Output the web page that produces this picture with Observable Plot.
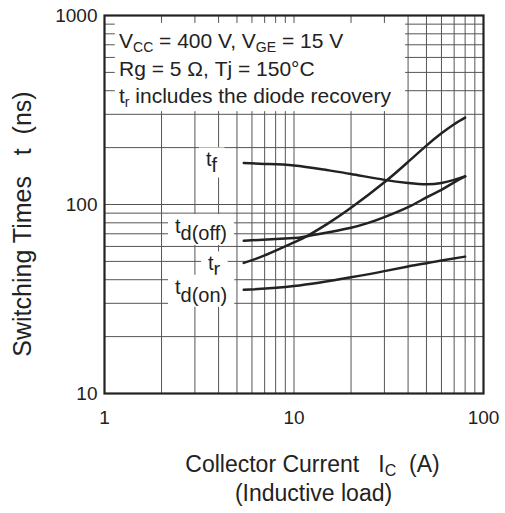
<!DOCTYPE html>
<html>
<head>
<meta charset="utf-8">
<script src="https://cdn.jsdelivr.net/npm/d3@7"></script>
<script src="https://cdn.jsdelivr.net/npm/@observablehq/plot@0.6"></script>
<style>
  html, body { margin: 0; padding: 0; background: #fff; }
  svg { display: block; }
</style>
</head>
<body>
<div id="chart"></div>
<script>
// ---------- data ----------
const xTicks = [1, 10, 100];
const yTicks = [10, 100, 1000];
const xGrid = [2, 3, 4, 5, 6, 7, 8, 9, 10, 20, 30, 40, 50, 60, 70, 80, 90];
const yGrid = [20, 30, 40, 50, 60, 70, 80, 90, 100, 200, 300, 400, 500, 600, 700, 800, 900];

const tfI = [5.43, 7, 10, 14.4, 20, 30, 40, 50, 60, 70, 80];
const tfT = [166, 164, 161, 153, 145, 135, 130, 128, 130, 135, 141];

const trI = [5.43, 7, 10, 11.7, 15, 20, 30, 40, 50, 60, 70, 80];
const trT = [49.1, 53.8, 63, 68, 79, 96, 131, 168, 205, 238, 266, 288];

const tdoffI = [5.43, 10, 11.7, 20, 30, 40, 50, 60, 70, 80];
const tdoffT = [64.3, 66.4, 68, 75.3, 85.7, 96.8, 109, 119.6, 131, 141];

const tdonI = [5.43, 10, 20, 30, 40, 50, 60, 80];
const tdonT = [35.4, 37, 41.2, 44.4, 47, 48.9, 50.5, 53];

const seriesNames = ["tf", "tr", "td(off)", "td(on)"];

// annotation anchors (data units)
const noteBox = [{x1: 1.14, x2: 38.8, y1: 310, y2: 908}];
const noteLines = [
  {x: 1.2, y: 668, text: "V_{CC} = 400 V, V_{GE} = 15 V"},
  {x: 1.2, y: 475, text: "Rg = 5 Ω, Tj = 150°C"},
  {x: 1.2, y: 342, text: "t_{r} includes the diode recovery"}
];
const curveLabels = [
  {x: 3.45, y: 158, text: "t_{f}", shift: 6},
  {x: 2.37, y: 70.3, text: "t_{d(off)}", shift: 7},
  {x: 3.54, y: 44.5, text: "t_{r}", shift: 6},
  {x: 2.37, y: 33.5, text: "t_{d(on)}", shift: 8}
];
const xTitle = "Collector Current\u00a0\u00a0\u00a0I_{C}\u00a0\u00a0(A)";
const xTitle2 = "(Inductive load)";
const yTitle = "Switching Times\u00a0\u00a0\u00a0t\u00a0\u00a0(ns)";

// ---------- build table ----------
const pairs = [[tfI, tfT], [trI, trT], [tdoffI, tdoffT], [tdonI, tdonT]];
const rows = pairs.flatMap(([I, T], k) => I.map((v, i) => ({series: seriesNames[k], I: v, t: T[i]})));

const FONT = "'Liberation Sans', Arial, Helvetica, sans-serif";
const INK = "#222";

const chart = Plot.plot({
  width: 505,
  height: 513,
  marginLeft: 104,
  marginRight: 22,
  marginTop: 15,
  marginBottom: 120,
  style: {fontFamily: FONT, color: INK, background: "#fff"},
  x: {type: "log", domain: [1, 100]},
  y: {type: "log", domain: [10, 1000]},
  marks: [
    Plot.ruleX(xGrid, {stroke: "#555", strokeWidth: 1}),
    Plot.ruleY(yGrid, {stroke: "#555", strokeWidth: 1}),
    Plot.rect(noteBox, {x1: "x1", x2: "x2", y1: "y1", y2: "y2", fill: "#fff"}),
    Plot.line(rows, {x: "I", y: "t", z: "series", stroke: INK, strokeWidth: 2.5, curve: "natural"}),
    Plot.frame({stroke: INK, strokeWidth: 2.2}),
    Plot.axisX({ticks: xTicks, tickFormat: d => String(d), tickSize: 0, tickPadding: 17, fontSize: 19, label: null, fill: INK}),
    Plot.axisY({ticks: yTicks, tickFormat: d => String(d), tickSize: 0, tickPadding: 7, fontSize: 19, label: null, fill: INK})
  ]
});

document.getElementById("chart").appendChild(chart);

const sx = chart.scale("x"), sy = chart.scale("y");
const svg = d3.select(chart);

function rich(g, markup, size, subSize, shift) {
  const t = g.append("text")
    .attr("font-family", FONT)
    .attr("font-size", size)
    .attr("text-anchor", "start")
    .attr("fill", INK);
  const re = /_\{([^}]*)\}/g;
  let last = 0, m, down = false;
  while ((m = re.exec(markup))) {
    if (m.index > last) {
      const s = t.append("tspan").text(markup.slice(last, m.index));
      if (down) { s.attr("dy", -shift); down = false; }
    }
    const sub = t.append("tspan").attr("font-size", subSize).text(m[1]);
    if (!down) sub.attr("dy", shift);
    down = true;
    last = re.lastIndex;
  }
  if (last < markup.length) {
    const s = t.append("tspan").text(markup.slice(last));
    if (down) s.attr("dy", -shift);
  }
  return t;
}

// note lines
const gNotes = svg.append("g");
noteLines.forEach(d => {
  rich(gNotes, d.text, 21, 14, 4)
    .attr("x", sx.apply(d.x)).attr("y", sy.apply(d.y));
});

// curve labels with white boxes
const gLab = svg.append("g");
curveLabels.forEach(d => {
  const g = gLab.append("g");
  const t = rich(g, d.text, 20, 20, d.shift)
    .attr("x", sx.apply(d.x)).attr("y", sy.apply(d.y));
  const b = t.node().getBBox();
  g.insert("rect", "text")
    .attr("x", b.x - 7).attr("y", b.y - 1)
    .attr("width", b.width + 14).attr("height", b.height + 2)
    .attr("fill", "#fff");
});

// axis titles
const [x0, x1] = sx.range;
const cx = (x0 + x1) / 2;
rich(svg, xTitle, 23, 16, 4).attr("x", cx + 19).attr("y", 472).attr("text-anchor", "middle");
rich(svg, xTitle2, 23, 16, 4).attr("x", cx + 20).attr("y", 501).attr("text-anchor", "middle");
const [y0, y1] = sy.range;
rich(svg, yTitle, 25, 17, 4)
  .attr("text-anchor", "middle")
  .attr("transform", `translate(31, ${(y0 + y1) / 2 + 20}) rotate(-90)`);
</script>
</body>
</html>
